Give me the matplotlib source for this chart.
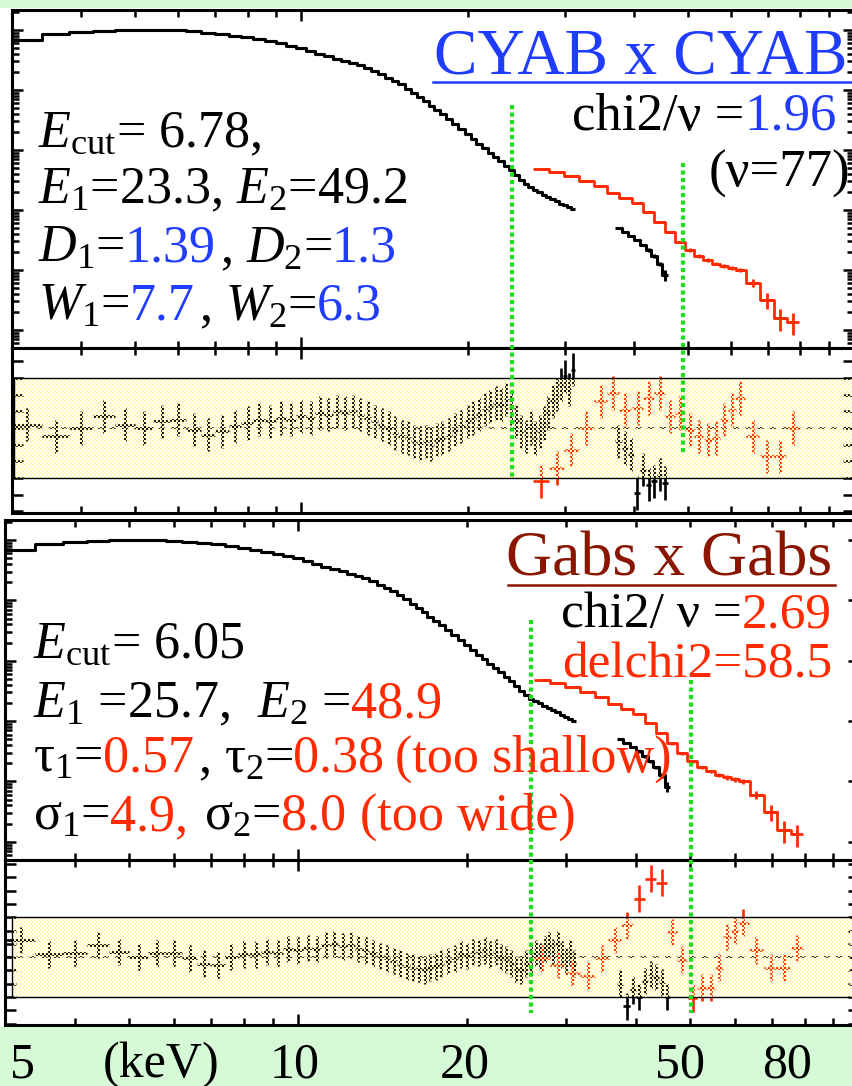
import numpy as np
import matplotlib
matplotlib.use('Agg')
import matplotlib.pyplot as plt
from matplotlib import transforms
from matplotlib.lines import Line2D
from matplotlib.patches import Rectangle
from matplotlib.ticker import LogLocator, MultipleLocator, NullFormatter

plt.rcParams['font.family'] = ['Liberation Serif', 'DejaVu Serif']
plt.rcParams['mathtext.fontset'] = 'custom'
plt.rcParams['mathtext.rm'] = 'Liberation Serif'
plt.rcParams['mathtext.it'] = 'Liberation Serif:italic'

# ---- spectrum data (keV, counts/s/keV) ----
energy_lo = [3.2, 3.6, 4.0, 4.4, 4.8, 5.2, 5.6, 6.0, 6.4, 6.8,
             7.2, 7.6, 8.0, 8.4, 8.8, 9.2, 9.6, 10.0, 10.4, 10.8,
             11.2, 11.6, 12.0, 12.4, 12.8, 13.2, 13.6, 14.0, 14.4, 14.8,
             15.2, 15.6, 16.0, 16.4, 16.8, 17.2, 17.6, 18.0,
             18.5, 19.0, 19.5, 20.0, 20.5, 21.0, 21.5, 22.0, 22.5, 23.0,
             23.5, 24.0, 24.5, 25.0, 25.5, 26.0, 26.5, 27.0, 27.5, 28.0,
             28.5, 29.0, 29.5, 30.0, 30.5, 31.0]
flux_lo = [68.1, 85.8, 92.6, 96.2, 100, 100, 100, 98.1, 94.4, 89.1,
           85.8, 79.4, 75.0, 69.5, 64.3, 59.6, 54.1, 50.1, 44.7, 39.8,
           36.2, 32.9, 30.4, 27.7, 25.6, 23.3, 20.7, 18.1, 15.8, 14.1,
           12.4, 10.4, 8.74, 7.50, 6.43, 5.41, 4.64, 3.91,
           3.22, 2.66, 2.20, 1.85, 1.53, 1.26, 1.06, 0.891, 0.764, 0.643,
           0.541, 0.464, 0.383, 0.316, 0.271, 0.237, 0.215, 0.196, 0.178, 0.165,
           0.153, 0.139, 0.128, 0.119, 0.110, 0.102]

energy_mid = [37.5, 38.5, 39.5, 40.5, 41.5, 42.5, 43.5, 44.5, 45.5]
flux_mid = [0.0501, 0.0430, 0.0369, 0.0316, 0.0261, 0.0215, 0.0171, 0.0126, 0.00825]
fracerr_mid = [0.04, 0.04, 0.04, 0.05, 0.05, 0.06, 0.07, 0.08, 0.2]

energy_hxd = [27.2, 29.0, 30.8, 32.8, 34.8, 36.7, 38.6, 40.6, 42.5, 44.5,
              46.4, 48.4, 50.5, 52.4, 54.4, 56.2, 58.1, 60.1, 62.2, 65.6,
              69.6, 73.5, 77.5]
flux_hxd = [0.483, 0.430, 0.369, 0.304, 0.251, 0.192, 0.159, 0.131, 0.0926, 0.0631,
            0.0430, 0.0293, 0.0215, 0.0171, 0.0147, 0.0128, 0.0117, 0.0108, 0.0100, 0.00607,
            0.00316, 0.00158, 0.00136]
fracerr_hxd = [0.03, 0.03, 0.03, 0.03, 0.03, 0.03, 0.03, 0.04, 0.04, 0.04,
               0.05, 0.05, 0.06, 0.06, 0.07, 0.07, 0.08, 0.08, 0.09, 0.15,
               0.3, 0.4, 0.4]

# ---- residuals (sigma) for the two models ----
res_cyab_lo = [0.2, -0.5, 0.0, 0.7, 0.2, 0.0, 0.4, 0.5, -0.1, -0.4,
               -0.2, 0.1, 0.3, 0.5, 0.4, 0.6, 0.5, 0.7, 0.6, 0.9,
               0.8, 1.0, 0.9, 1.0, 0.8, 0.6, 0.4, 0.2, 0.0, -0.3,
               -0.5, -0.6, -0.8, -0.9, -0.8, -1.0, -0.7, -0.6,
               -0.4, -0.1, 0.1, 0.4, 0.6, 0.8, 1.1, 1.3, 1.5, 1.4,
               1.7, 1.2, 0.4, -0.2, -0.5, 0.0, -0.6, -0.2, 0.3, 0.9,
               1.6, 2.0, 2.6, 3.1, 2.3, 3.5]
res_cyab_mid = [-0.8, -1.2, -1.6, -3.9, -2.5, -3.4, -3.2, -2.8, -3.3]
res_cyab_hxd = [-3.2, -2.4, -1.3, 0.0, 1.6, 2.1, 1.1, 1.2, 1.8, 2.1,
                0.7, 0.9, -0.1, -0.5, -0.7, -0.6, 0.5, 1.1, 1.8, -0.5,
                -1.7, -1.7, 0.0]

res_gabs_lo = [1.3, 0.2, 0.3, 0.9, 0.4, 0.0, 0.3, 0.3, -0.1, -0.5,
               -0.6, 0.0, 0.2, 0.2, 0.4, 0.3, 0.6, 0.5, 0.7, 0.6,
               0.9, 1.0, 0.8, 0.9, 0.6, 0.5, 0.3, 0.1, -0.1, -0.3,
               -0.5, -0.7, -0.8, -0.9, -1.0, -0.8, -0.7, -0.5,
               -0.3, -0.1, 0.2, 0.1, 0.4, 0.3, 0.5, 0.2, 0.4, 0.0,
               -0.2, -0.5, -0.9, -1.0, -0.5, -0.2, 0.3, 0.1, 0.6, 0.9,
               0.4, 1.0, 0.2, -0.3, 0.3, -0.5]
res_gabs_mid = [-2.0, -3.7, -2.5, -3.0, -1.8, -1.3, -1.5, -1.9, -3.0]
res_gabs_hxd = [-0.1, -0.6, -1.2, -1.4, -0.1, 1.3, 2.4, 4.4, 5.9, 5.6,
                1.9, -0.2, -3.1, -2.3, -2.3, -0.8, 1.5, 2.0, 2.6, 0.5,
                -0.8, -0.8, 0.7]

# line energies marked in each panel (keV)
lines_cyab = [24.1, 49.0]
lines_gabs = [26.0, 50.2]

BLUE = '#1f3cff'
RED = '#ff2a00'
DARKRED = '#8a1500'
GREEN = '#1edc1e'
STRIP = '#d5fad5'

W, H = 852, 1086
fig = plt.figure(figsize=(W / 100, H / 100), dpi=100)
fig.patch.set_facecolor('white')
renderer = fig.canvas.get_renderer()


def frame(left, top, right, bottom):
    return [left / W, 1 - bottom / H, (right - left) / W, (bottom - top) / H]


def style_axes(ax):
    ax.set_xscale('log')
    ax.set_xlim(3, 100)
    ax.xaxis.set_major_locator(LogLocator(base=10))
    ax.xaxis.set_minor_locator(LogLocator(base=10, subs=np.arange(2, 10), numticks=50))
    ax.xaxis.set_major_formatter(NullFormatter())
    ax.xaxis.set_minor_formatter(NullFormatter())
    ax.tick_params(which='both', direction='in', top=True, right=True,
                   labelbottom=False, labelleft=False, width=1.8)
    ax.tick_params(which='major', length=8)
    ax.tick_params(which='minor', length=5)
    for s in ax.spines.values():
        s.set_linewidth(2.2)


def draw_spectrum(ax):
    style_axes(ax)
    ax.set_yscale('log')
    ax.set_ylim(5.0e-4, 215)
    ax.yaxis.set_major_locator(LogLocator(base=10, numticks=50))
    ax.yaxis.set_minor_locator(LogLocator(base=10, subs=np.arange(2, 10), numticks=50))
    ax.yaxis.set_major_formatter(NullFormatter())
    ax.yaxis.set_minor_formatter(NullFormatter())

    e = np.array(energy_lo)
    ax.step(e, flux_lo, where='mid', color='black', lw=2.2)
    ax.errorbar(e, flux_lo, xerr=np.gradient(e) / 2, fmt='none', ecolor='black', elinewidth=2.2)

    e = np.array(energy_mid)
    f = np.array(flux_mid)
    ax.step(e, f, where='mid', color='black', lw=2.2)
    ax.errorbar(e, f, xerr=np.gradient(e) / 2, yerr=f * np.array(fracerr_mid),
                fmt='none', ecolor='black', elinewidth=2.2)

    e = np.array(energy_hxd)
    f = np.array(flux_hxd)
    ax.step(e, f, where='mid', color=RED, lw=2.0)
    ax.errorbar(e, f, xerr=np.gradient(e) / 2, yerr=f * np.array(fracerr_hxd),
                fmt='none', ecolor=RED, elinewidth=2.0)


def draw_residual(ax, r_lo, r_mid, r_hxd, ylim, band_left):
    style_axes(ax)
    ax.set_ylim(*ylim)
    ax.yaxis.set_major_locator(MultipleLocator(1))
    ax.yaxis.set_major_formatter(NullFormatter())
    ax.axhline(0, color='black', lw=1.1, ls=(0, (4, 4)))
    for e, r, c in [(energy_lo, r_lo, 'black'), (energy_mid, r_mid, 'black'),
                    (energy_hxd, r_hxd, RED)]:
        e = np.array(e)
        ax.errorbar(e, r, xerr=np.gradient(e) / 2, yerr=1, fmt='none',
                    ecolor=c, elinewidth=1.9)

    # +-3 sigma band, dithered pale yellow laid over the points
    tr = transforms.blended_transform_factory(ax.transAxes, ax.transData)
    (dx0, dy0) = tr.transform((band_left, -3))
    (dx1, dy1) = tr.transform((1.0, 3))
    inv = fig.transFigure.inverted()
    fx0, fy0 = inv.transform((dx0, dy0))
    fx1, fy1 = inv.transform((dx1, dy1))
    ov = fig.add_axes([fx0, fy0, fx1 - fx0, fy1 - fy0], zorder=ax.get_zorder() + 1)
    w, h = int(round(dx1 - dx0)), int(round(dy1 - dy0))
    ii, jj = np.indices((h, w))
    img = np.zeros((h, w, 4))
    img[((ii // 2 + jj // 2) % 2) == 0] = [1.0, 0.965, 0.72, 1.0]
    ov.imshow(img, extent=(0, 1, 0, 1), aspect='auto', interpolation='nearest')
    ov.set_xlim(0, 1)
    ov.set_ylim(0, 1)
    ov.axis('off')
    ov.add_patch(Rectangle((0, 0), 1, 1, fill=False, ec='black', lw=1.0,
                           transform=ov.transAxes, clip_on=False))


def marker_lines(ax, energies, spans):
    tr = transforms.blended_transform_factory(ax.transData, fig.transFigure)
    for e, (y0, y1) in zip(energies, spans):
        fig.add_artist(Line2D([e, e], [1 - y0 / H, 1 - y1 / H], transform=tr,
                              color=GREEN, lw=3.0, ls=(0, (1.0, 0.8)),
                              dash_capstyle='butt', zorder=5))


def text_row(x, y, parts, size=35, align='left'):
    items = []
    for p in parts:
        if isinstance(p, (int, float)):
            items.append((None, p))
            continue
        t = fig.text(0, 1 - y / H, p[0], color=p[1], fontsize=size,
                     ha='left', va='baseline', zorder=6)
        items.append((t, t.get_window_extent(renderer).width))
    total = sum(wd for _, wd in items)
    cx = x - total if align == 'right' else x
    for t, wd in items:
        if t is not None:
            t.set_x(cx / W)
        cx += wd


def hline_px(x0, x1, y, color):
    fig.add_artist(Line2D([x0 / W, x1 / W], [1 - y / H, 1 - y / H],
                          transform=fig.transFigure, color=color, lw=1.8, zorder=6))


# green strips at top and bottom
fig.add_artist(Rectangle((0, 1 - 8 / H), 1, 8 / H, transform=fig.transFigure,
                         fc=STRIP, ec='none', zorder=-1))
fig.add_artist(Rectangle((0, 0), 1, 1 - 1027 / H, transform=fig.transFigure,
                         fc=STRIP, ec='none', zorder=-1))

ax1 = fig.add_axes(frame(12, 10, 854, 348))
ar1 = fig.add_axes(frame(12, 348, 854, 513))
ax2 = fig.add_axes(frame(5, 520, 859, 860))
ar2 = fig.add_axes(frame(5, 860, 859, 1025))

draw_spectrum(ax1)
draw_spectrum(ax2)
draw_residual(ar1, res_cyab_lo, res_cyab_mid, res_cyab_hxd, (-5.1, 4.8), 0.0024)
draw_residual(ar2, res_gabs_lo, res_gabs_mid, res_gabs_hxd, (-5.1, 7.3), 0.0082)

marker_lines(ax1, lines_cyab, [(105, 477), (163, 455)])
marker_lines(ax2, lines_gabs, [(620, 1013), (680, 1013)])

# upper panel annotations
text_row(847, 73, [('CYAB x CYAB', BLUE)], size=47, align='right')
hline_px(433, 852, 82, BLUE)
text_row(837, 130, [('chi2/ν =', 'black'), ('1.96', BLUE)], size=38, align='right')
text_row(850, 187, [('(ν=77)', 'black')], size=38, align='right')

text_row(38, 147, [(r'$E_{\mathrm{cut}}$= 6.78,', 'black')], size=37.5)
text_row(38, 203, [(r'$E_1$=23.3, $E_2$=49.2', 'black')], size=37.5)
text_row(38, 262, [(r'$D_1$=', 'black'), ('1.39', BLUE), 4, (r', $D_2$=', 'black'), ('1.3', BLUE)], size=37.5)
text_row(38, 320, [(r'$W_1$=', 'black'), ('7.7', BLUE), 4, (r', $W_2$=', 'black'), ('6.3', BLUE)], size=37.5)

# lower panel annotations
text_row(832, 575, [('Gabs x Gabs', DARKRED)], size=46, align='right')
hline_px(508, 835, 585, DARKRED)
text_row(832, 627, [('chi2/ ν =', 'black'), ('2.69', RED)], size=37, align='right')
text_row(832, 678, [('delchi2=58.5', RED)], size=37, align='right')

text_row(33, 658, [(r'$E_{\mathrm{cut}}$= 6.05', 'black')], size=37.5)
text_row(33, 717, [(r'$E_1$ =25.7,  $E_2$ =', 'black'), ('48.9', RED)], size=37.5)
text_row(33, 772, [(r'$\mathrm{τ}_1$=', 'black'), ('0.57', RED), 4, (r', $\mathrm{τ}_2$=', 'black'),
                   ('0.38', RED), 10, ('(too shallow)', RED)], size=37.5)
text_row(33, 830, [(r'$\mathrm{σ}_1$=', 'black'), ('4.9,', RED), 16, (r'$\mathrm{σ}_2$=', 'black'),
                   ('8.0', RED), 14, ('(too wide)', RED)], size=37.5)

# energy labels along the bottom strip
xlabels = ['5', '(keV)', '10', '20', '50', '80']
xlabel_px = [10, 103, 270, 440, 655, 762]
for s, xp in zip(xlabels, xlabel_px):
    text_row(xp, 1077, [(s, 'black')], size=36)

fig.savefig('out.png', dpi=100)
